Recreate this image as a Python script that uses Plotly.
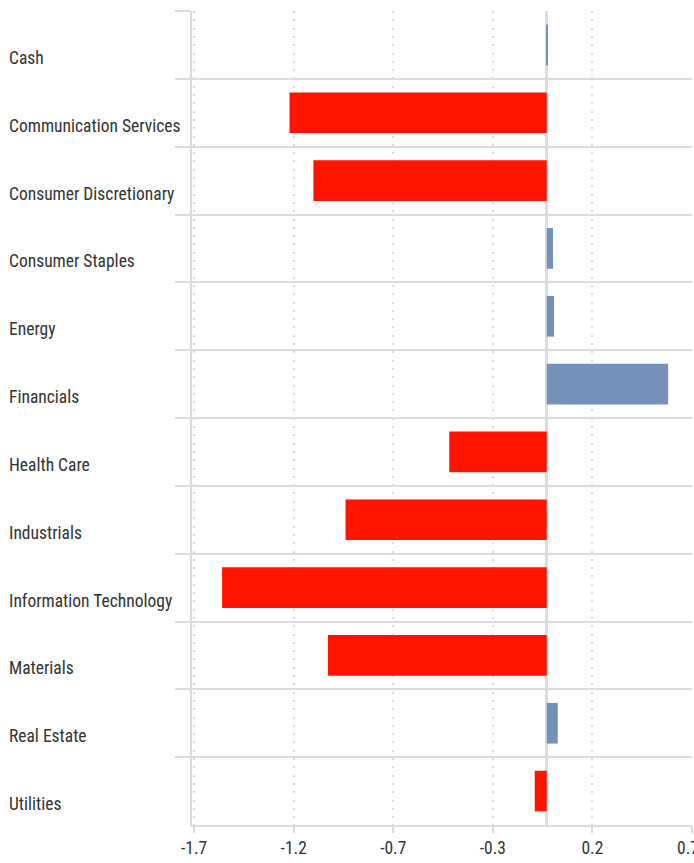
import plotly.graph_objects as go

categories = ["Cash", "Communication Services", "Consumer Discretionary", "Consumer Staples",
              "Energy", "Financials", "Health Care", "Industrials", "Information Technology",
              "Materials", "Real Estate", "Utilities"]
values = [0.005, -1.24, -1.125, 0.03, 0.035, 0.585, -0.47, -0.97, -1.565, -1.055, 0.053, -0.058]
tick_vals = [-1.7, -1.22, -0.74, -0.26, 0.22, 0.7]
tick_text = ["-1.7", "-1.2", "-0.7", "-0.3", "0.2", "0.7&nbsp;&nbsp;"]

RED = "#ff1400"
BLUE = "#7492b9"
GRID = "#dcdcdc"
FONT = "Roboto Condensed, DejaVu Sans Condensed, Liberation Sans Narrow, Roboto, sans-serif"

colors = [BLUE if v >= 0 else RED for v in values]

fig = go.Figure(go.Bar(
    x=values, y=categories, orientation="h",
    marker=dict(color=colors, line=dict(width=0)),
    width=0.6, hoverinfo="x+y",
))

for c in categories:
    fig.add_annotation(
        x=-0.37, xref="paper", y=c, yref="y", yshift=-13,
        text=c, showarrow=False, xanchor="left", yanchor="middle",
        font=dict(family=FONT, size=17.5, color="#333333"),
    )

fig.update_layout(
    width=694, height=863,
    margin=dict(l=192, r=2, t=11, b=38, autoexpand=False),
    plot_bgcolor="white", paper_bgcolor="white",
    showlegend=False,
    bargap=0.4,
    font=dict(family=FONT, size=17.5, color="#333333"),
)
fig.update_xaxes(
    range=[-1.71, 0.7],
    tickvals=tick_vals, ticktext=tick_text,
    ticklabeloverflow="allow", automargin=False,
    showgrid=True, gridcolor=GRID, griddash="2px,6.3px", gridwidth=2,
    zeroline=True, zerolinecolor=GRID, zerolinewidth=3,
    showline=True, linecolor=GRID, linewidth=2,
    ticks="outside", ticklen=6, tickcolor=GRID, tickwidth=2,
    tickfont=dict(family=FONT, size=17.5, color="#333333"),
)
fig.update_yaxes(
    type="category", autorange="reversed", automargin=False,
    tickson="boundaries", ticks="outside", ticklen=15, tickcolor=GRID, tickwidth=2,
    showgrid=True, gridcolor=GRID, gridwidth=2,
    showline=True, linecolor=GRID, linewidth=2,
    showticklabels=False,
)

fig.write_html("out.html", config={"displayModeBar": False},
               post_script="document.body.style.margin='0px';document.body.style.padding='0px';")
